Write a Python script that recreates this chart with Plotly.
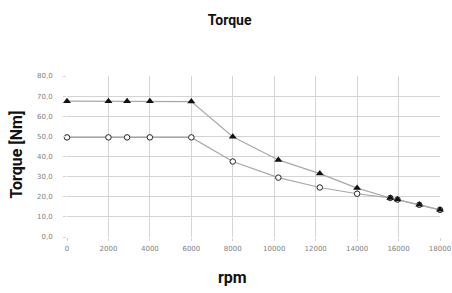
import plotly.graph_objects as go

rpm_tri = [0, 2000, 2900, 4000, 6000, 8000, 10200, 12200, 14000, 15600, 15950, 17000, 18000]
torque_tri = [67.5, 67.5, 67.5, 67.5, 67.3, 49.8, 38.3, 31.5, 24.3, 19.4, 18.6, 16.0, 13.5]

rpm_circ = [0, 2000, 2900, 4000, 6000, 8000, 10200, 12200, 14000, 15600, 15950, 17000, 18000]
torque_circ = [49.5, 49.5, 49.5, 49.5, 49.5, 37.5, 29.5, 24.6, 21.5, 19.4, 18.6, 16.0, 13.5]

x_ticks = [0, 2000, 4000, 6000, 8000, 10000, 12000, 14000, 16000, 18000]
x_ticktext = [str(v) for v in x_ticks]
y_ticks = [0, 10, 20, 30, 40, 50, 60, 70, 80]
y_ticktext = ["0,0", "10,0", "20,0", "30,0", "40,0", "50,0", "60,0", "70,0", "80,0"]

font_main = "Roboto, Arial, sans-serif"

fig = go.Figure()
fig.add_trace(go.Scatter(
    x=rpm_circ, y=torque_circ, mode="lines+markers", cliponaxis=False,
    line=dict(color="#a8a8a8", width=1.2),
    marker=dict(symbol="circle", size=5.5, color="white", line=dict(color="#222", width=1)),
    showlegend=False))
fig.add_trace(go.Scatter(
    x=rpm_tri, y=torque_tri, mode="lines+markers", cliponaxis=False,
    line=dict(color="#a8a8a8", width=1.2),
    marker=dict(symbol="triangle-up", size=7, color="#111"),
    showlegend=False))

fig.add_shape(type="line", xref="paper", x0=0, x1=1, yref="y", y0=40, y1=40,
              line=dict(color="#8a8a8a", width=1), layer="below")

fig.add_annotation(text="<b>Torque [Nm]</b>", textangle=-90, xref="paper", yref="paper",
                   x=-0.135, y=0.51, xanchor="center", yanchor="middle", showarrow=False,
                   font=dict(family=font_main, size=16, color="#111"))
fig.add_annotation(text="<b>rpm</b>", xref="paper", yref="paper",
                   x=0.445, y=-0.25, xanchor="center", yanchor="middle", showarrow=False,
                   font=dict(family=font_main, size=16, color="#111"))

fig.update_layout(
    width=452, height=293,
    margin=dict(l=67, r=12, t=76, b=56),
    paper_bgcolor="white", plot_bgcolor="white",
    title=dict(text="<b>Torque</b>", xref="container", x=0.508, xanchor="center",
               y=0.93, yanchor="middle",
               font=dict(family=font_main, size=14, color="#111")),
    xaxis=dict(range=[0, 18000], tickvals=x_ticks, ticktext=x_ticktext,
               showgrid=True, gridcolor="#d4d4d4", gridwidth=1, zeroline=False,
               showline=False, ticks="outside", ticklen=3, tickcolor="#d4d4d4",
               ticklabelstandoff=2, automargin=False,
               tickfont=dict(family="DejaVu Sans, sans-serif", size=7, color="#808080")),
    yaxis=dict(range=[0, 80], tickvals=y_ticks, ticktext=y_ticktext,
               showgrid=True, gridcolor="#d4d4d4", gridwidth=1, zeroline=False,
               showline=False, ticks="outside", ticklen=3, tickcolor="#d4d4d4",
               ticklabelstandoff=9, automargin=False,
               tickfont=dict(family="DejaVu Sans, sans-serif", size=7, color="#808080")),
)

post = ("document.body.style.margin='0';document.body.style.overflow='hidden';"
        "var gd=document.getElementById('{plot_id}');Plotly.relayout(gd,{width:452,height:293});")

fig.write_html("out.html", post_script=post, config={"displayModeBar": False})
